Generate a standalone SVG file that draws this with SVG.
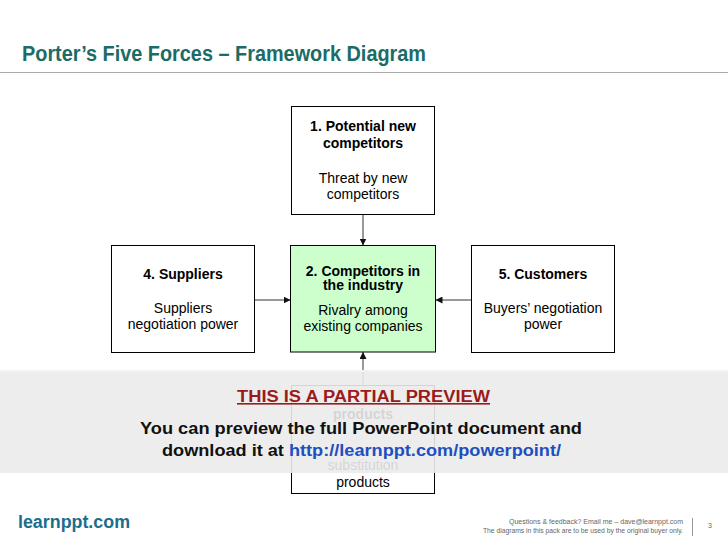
<svg xmlns="http://www.w3.org/2000/svg" width="728" height="546" viewBox="0 0 728 546">
<defs>
<style>
.box{fill:#fff;stroke:#000;stroke-width:1}
.green{fill:#CCFFCC}
.t{font-family:"Liberation Sans",Arial,sans-serif;font-size:14px;fill:#000;text-anchor:middle}
.b{font-weight:bold}
.con{stroke:#333;stroke-width:1;fill:none;marker-end:url(#ah)}
.foot{font-family:"Liberation Sans",Arial,sans-serif;font-size:7px;fill:#666;text-anchor:end}
.ov{font-family:"Liberation Sans",Arial,sans-serif;font-weight:bold}
</style>
<marker id="ah" viewBox="0 0 10 10" refX="10" refY="5" markerWidth="7" markerHeight="7" markerUnits="userSpaceOnUse" orient="auto">
<path d="M0,0 L10,5 L0,10 z" fill="#111"/>
</marker>
</defs>
<rect width="728" height="546" fill="#fff"/>
<text x="22" y="61" font-family="'Liberation Sans Narrow','Liberation Sans',Arial,sans-serif" font-size="22" font-weight="bold" fill="#1B6B66" textLength="404" lengthAdjust="spacingAndGlyphs">Porter’s Five Forces – Framework Diagram</text>
<line x1="0" y1="72.5" x2="728" y2="72.5" stroke="#AAAAAA" stroke-width="1.2"/>

<g id="connectors">
<line class="con" x1="363" y1="214.5" x2="363" y2="245.5"/>
<line class="con" x1="254.5" y1="300" x2="290.5" y2="300"/>
<line class="con" x1="471.5" y1="300" x2="435.5" y2="300"/>
<line class="con" x1="363" y1="385.5" x2="363" y2="352"/>
</g>

<g id="node1">
<rect class="box" x="291.5" y="106.5" width="143" height="108"/>
<text class="t b" x="363" y="131">1. Potential new</text>
<text class="t b" x="363" y="148">competitors</text>
<text class="t" x="363" y="183">Threat by new</text>
<text class="t" x="363" y="199">competitors</text>
</g>
<g id="node2">
<rect class="box green" x="290.5" y="245.5" width="145" height="106.5"/>
<text class="t b" x="363" y="275.5">2. Competitors in</text>
<text class="t b" x="363" y="290">the industry</text>
<text class="t" x="363" y="315">Rivalry among</text>
<text class="t" x="363" y="331">existing companies</text>
</g>
<g id="node4">
<rect class="box" x="111.5" y="245.5" width="143" height="107"/>
<text class="t b" x="183" y="279">4. Suppliers</text>
<text class="t" x="183" y="313">Suppliers</text>
<text class="t" x="183" y="329">negotiation power</text>
</g>
<g id="node5">
<rect class="box" x="471.5" y="245.5" width="143" height="107"/>
<text class="t b" x="543" y="279">5. Customers</text>
<text class="t" x="543" y="313">Buyers’ negotiation</text>
<text class="t" x="543" y="329">power</text>
</g>
<g id="node3">
<rect class="box" x="291.5" y="385.5" width="143" height="108"/>
<text class="t b" x="363" y="419">products</text>
<text class="t" x="363" y="470">substitution</text>
<text class="t" x="363" y="487">products</text>
</g>

<g id="overlay">
<rect x="0" y="370" width="728" height="103" fill="#EBEBEB" fill-opacity="0.9"/>
<line x1="0" y1="371" x2="728" y2="371" stroke="#F2F2F2" stroke-width="2"/>
<text class="ov" x="237" y="402" font-size="16" fill="#9B1B1B" text-decoration="underline" textLength="253" lengthAdjust="spacingAndGlyphs">THIS IS A PARTIAL PREVIEW</text>
<text class="ov" x="140" y="434" font-size="16.5" fill="#111" textLength="442" lengthAdjust="spacingAndGlyphs">You can preview the full PowerPoint document and</text>
<text class="ov" x="162" y="456" font-size="16.5" fill="#111" textLength="399" lengthAdjust="spacingAndGlyphs">download it at <tspan fill="#1E4FC0">http://learnppt.com/powerpoint/</tspan></text>
</g>

<g id="footer">
<text x="18" y="528" font-family="'Liberation Sans',Arial,sans-serif" font-size="17.5" font-weight="bold" fill="#1A6E8C" textLength="112" lengthAdjust="spacingAndGlyphs">learnppt.com</text>
<text class="foot" x="683" y="524">Questions &amp; feedback?  Email me – dave@learnppt.com</text>
<text class="foot" x="683" y="533" textLength="200" lengthAdjust="spacingAndGlyphs">The diagrams in this pack are to be used by the original buyer only.</text>
<line x1="692.5" y1="518" x2="692.5" y2="536" stroke="#999" stroke-width="1"/>
<text class="foot" x="712" y="528">3</text>
</g>
</svg>
